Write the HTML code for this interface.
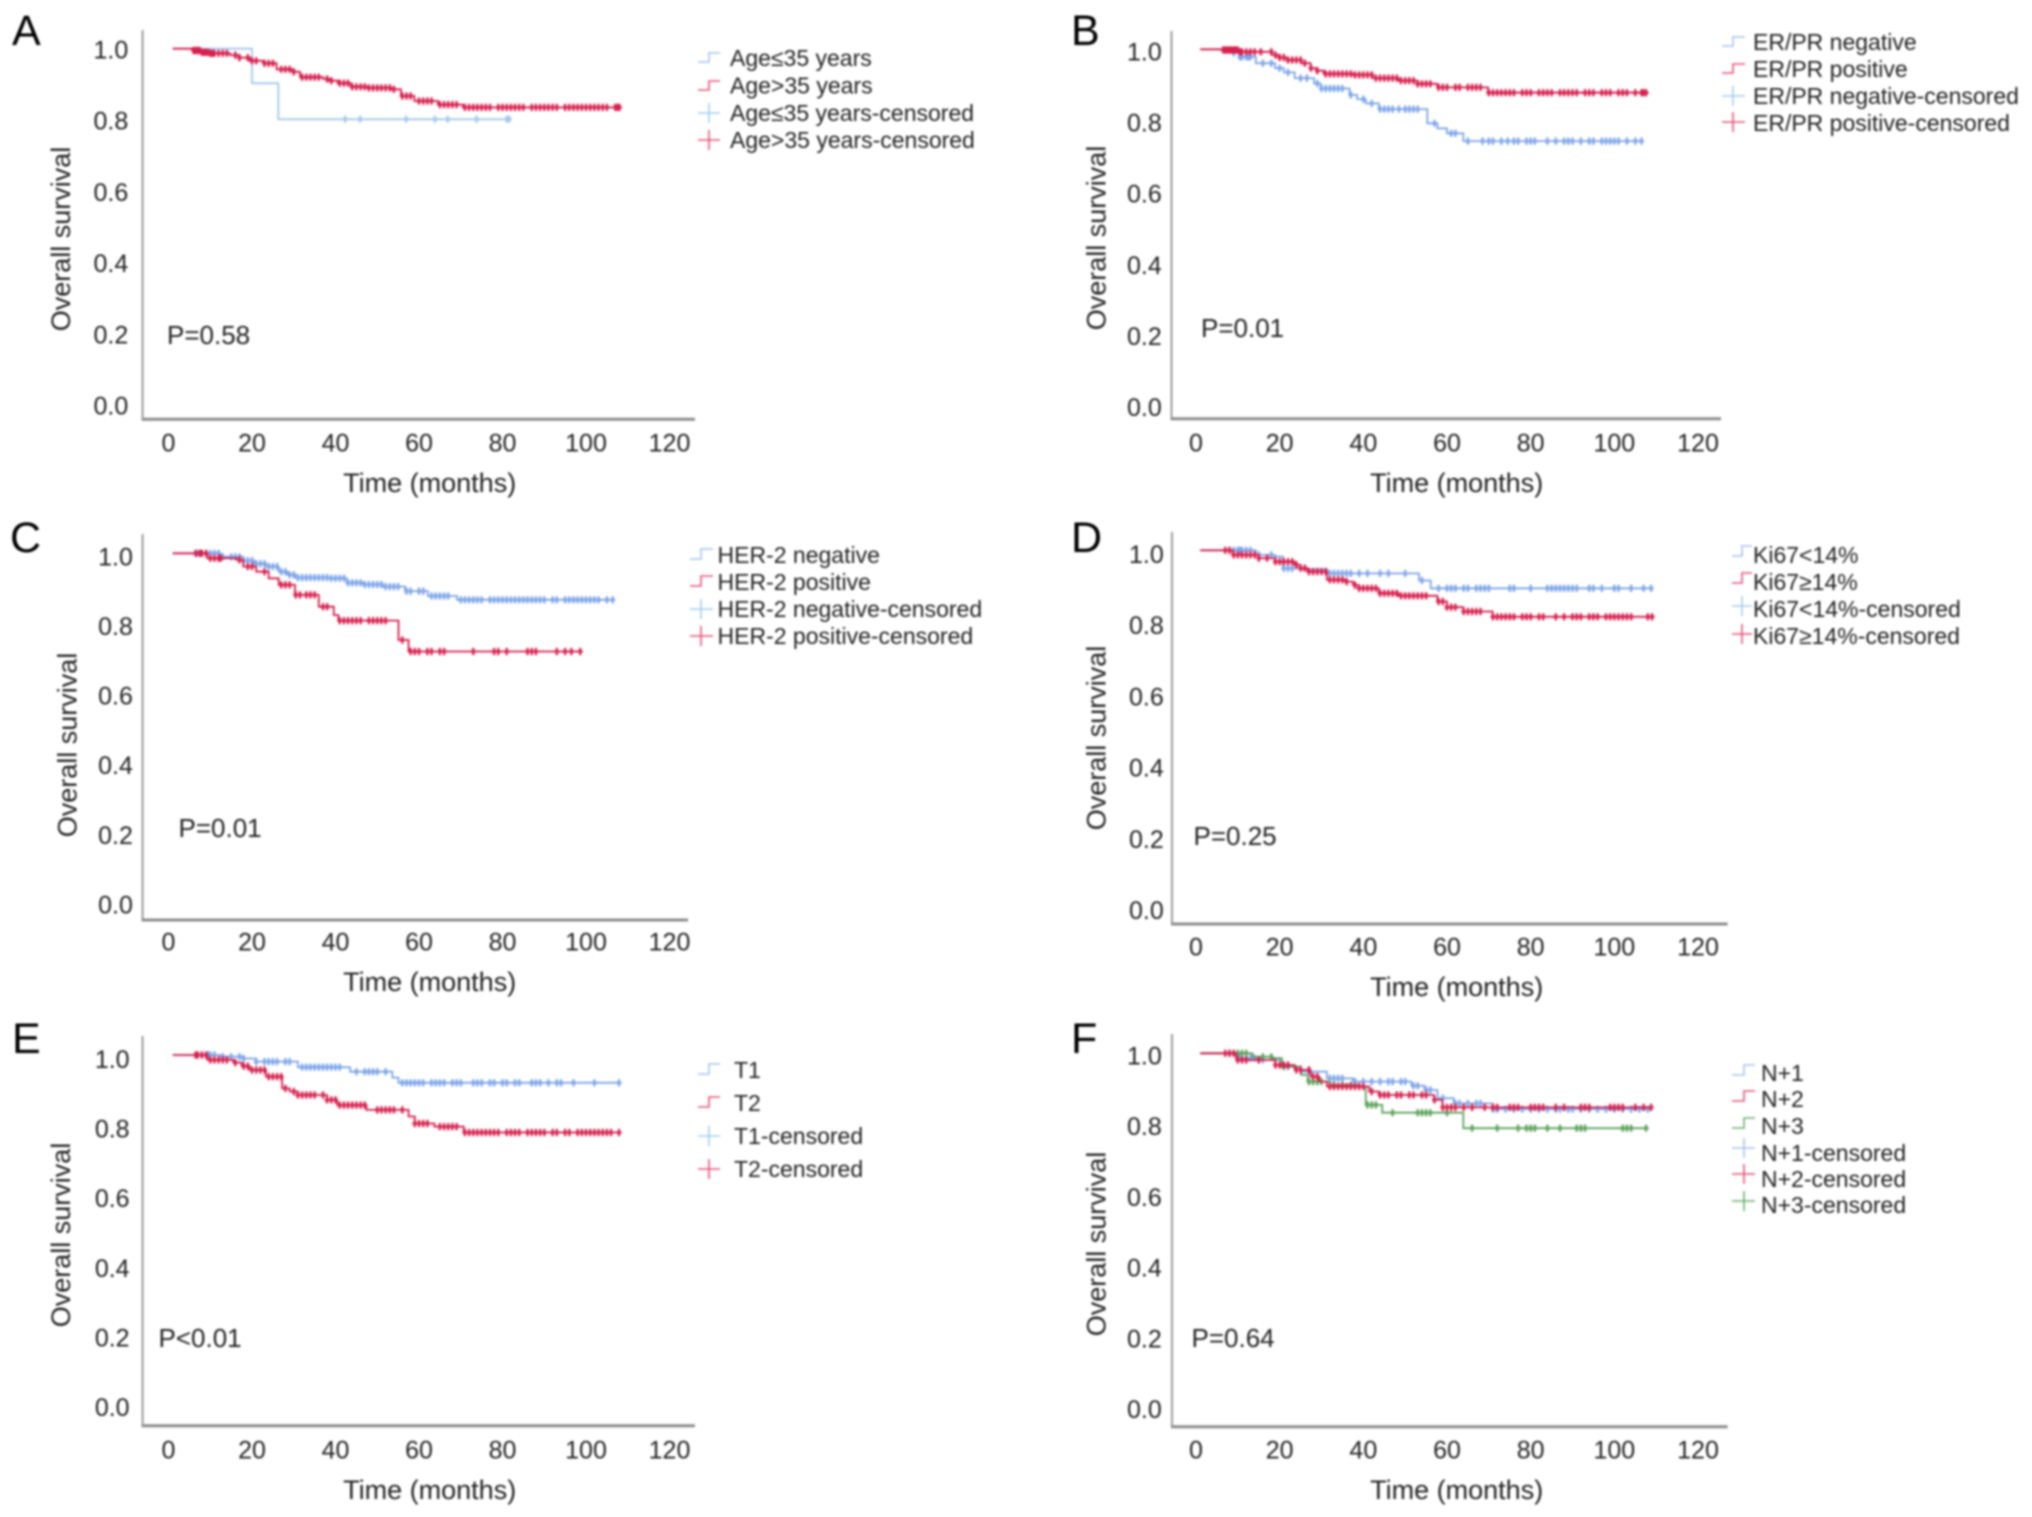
<!DOCTYPE html>
<html lang="en">
<head>
<meta charset="utf-8">
<title>Overall survival Kaplan-Meier curves</title>
<style>
html,body{margin:0;padding:0;background:#fff;width:2032px;height:1517px;overflow:hidden}
svg{display:block;filter:blur(0.95px)}
text{font-family:"Liberation Sans",sans-serif;fill:#222}
.letter{font-size:43px;fill:#000}
.atitle{font-size:27px}
.tick{font-size:25px}
.pval{font-size:26px}
.leg{font-size:23px}
.ic{fill:none;stroke-width:1.6}
</style>
</head>
<body>
<svg id="figure" xmlns="http://www.w3.org/2000/svg" width="2032" height="1517" viewBox="0 0 2032 1517">
<rect width="2032" height="1517" fill="#fff"/>
<g id="panel-a">
  <text class="letter" x="12" y="45">A</text>
  <text class="atitle" text-anchor="middle" dy=".36em" transform="translate(60.4 239) rotate(-90)">Overall survival</text>
  <text class="atitle" text-anchor="middle" x="429.7" y="492">Time (months)</text>
  <text class="pval" x="167" y="344">P=0.58</text>
  <path class="ic" stroke="#a9c4ee" d="M698 62H709V53H720"/>
  <text class="leg" x="730" y="66">Age≤35 years</text>
  <path class="ic" stroke="#e8557a" d="M698 90H709V81H720"/>
  <text class="leg" x="730" y="93.5">Age&gt;35 years</text>
  <path class="ic" stroke="#a5cdee" d="M698 113H720M709 103V123"/>
  <text class="leg" x="730" y="121">Age≤35 years-censored</text>
  <path class="ic" stroke="#e8557a" d="M698 140H720M709 130V150"/>
  <text class="leg" x="730" y="148">Age&gt;35 years-censored</text>
</g>
<g id="panel-b">
  <text class="letter" x="1071" y="45">B</text>
  <text class="atitle" text-anchor="middle" dy=".36em" transform="translate(1096 238) rotate(-90)">Overall survival</text>
  <text class="atitle" text-anchor="middle" x="1456.7" y="492">Time (months)</text>
  <text class="pval" x="1201" y="337">P=0.01</text>
  <path class="ic" stroke="#a9c4ee" d="M1722 46H1733V37H1745"/>
  <text class="leg" x="1753" y="50">ER/PR negative</text>
  <path class="ic" stroke="#e8557a" d="M1722 73H1733V64H1745"/>
  <text class="leg" x="1753" y="77">ER/PR positive</text>
  <path class="ic" stroke="#a5cdee" d="M1722 96H1745M1733 86V106"/>
  <text class="leg" x="1753" y="104">ER/PR negative-censored</text>
  <path class="ic" stroke="#e8557a" d="M1722 122H1745M1733 112V132"/>
  <text class="leg" x="1753" y="131">ER/PR positive-censored</text>
</g>
<g id="panel-c">
  <text class="letter" x="10" y="552">C</text>
  <text class="atitle" text-anchor="middle" dy=".36em" transform="translate(67 745) rotate(-90)">Overall survival</text>
  <text class="atitle" text-anchor="middle" x="429.7" y="991">Time (months)</text>
  <text class="pval" x="178.5" y="837">P=0.01</text>
  <path class="ic" stroke="#a9c4ee" d="M690 559H701V549H713"/>
  <text class="leg" x="717.5" y="563">HER-2 negative</text>
  <path class="ic" stroke="#e8557a" d="M690 586H701V576H713"/>
  <text class="leg" x="717.5" y="590">HER-2 positive</text>
  <path class="ic" stroke="#a5cdee" d="M690 609H713M701 599V619"/>
  <text class="leg" x="717.5" y="617">HER-2 negative-censored</text>
  <path class="ic" stroke="#e8557a" d="M690 636H713M701 626V646"/>
  <text class="leg" x="717.5" y="644">HER-2 positive-censored</text>
</g>
<g id="panel-d">
  <text class="letter" x="1071" y="552">D</text>
  <text class="atitle" text-anchor="middle" dy=".36em" transform="translate(1096 738) rotate(-90)">Overall survival</text>
  <text class="atitle" text-anchor="middle" x="1456.7" y="996">Time (months)</text>
  <text class="pval" x="1193.5" y="845">P=0.25</text>
  <path class="ic" stroke="#a9c4ee" d="M1732 556H1742V546H1752"/>
  <text class="leg" x="1753" y="563">Ki67&lt;14%</text>
  <path class="ic" stroke="#e8557a" d="M1732 583H1742V573H1752"/>
  <text class="leg" x="1753" y="590">Ki67≥14%</text>
  <path class="ic" stroke="#a5cdee" d="M1732 606H1752M1742 596V616"/>
  <text class="leg" x="1753" y="617">Ki67&lt;14%-censored</text>
  <path class="ic" stroke="#e8557a" d="M1732 634H1752M1742 624V644"/>
  <text class="leg" x="1753" y="644">Ki67≥14%-censored</text>
</g>
<g id="panel-e">
  <text class="letter" x="12" y="1053">E</text>
  <text class="atitle" text-anchor="middle" dy=".36em" transform="translate(60.4 1235) rotate(-90)">Overall survival</text>
  <text class="atitle" text-anchor="middle" x="429.7" y="1499">Time (months)</text>
  <text class="pval" x="158.5" y="1347">P&lt;0.01</text>
  <path class="ic" stroke="#a9c4ee" d="M698 1074H709V1064H720"/>
  <text class="leg" x="734" y="1078">T1</text>
  <path class="ic" stroke="#e8557a" d="M698 1107H709V1097H720"/>
  <text class="leg" x="734" y="1111">T2</text>
  <path class="ic" stroke="#a5cdee" d="M698 1136H720M709 1126V1146"/>
  <text class="leg" x="734" y="1144">T1-censored</text>
  <path class="ic" stroke="#e8557a" d="M698 1169H720M709 1159V1179"/>
  <text class="leg" x="734" y="1177">T2-censored</text>
</g>
<g id="panel-f">
  <text class="letter" x="1071" y="1053">F</text>
  <text class="atitle" text-anchor="middle" dy=".36em" transform="translate(1096 1244) rotate(-90)">Overall survival</text>
  <text class="atitle" text-anchor="middle" x="1456.7" y="1499">Time (months)</text>
  <text class="pval" x="1191.5" y="1347">P=0.64</text>
  <path class="ic" stroke="#a9c4ee" d="M1732 1075H1744V1065H1755"/>
  <text class="leg" x="1761" y="1081">N+1</text>
  <path class="ic" stroke="#e8557a" d="M1732 1101H1744V1091H1755"/>
  <text class="leg" x="1761" y="1107">N+2</text>
  <path class="ic" stroke="#6fb06f" d="M1732 1128H1744V1118H1755"/>
  <text class="leg" x="1761" y="1134">N+3</text>
  <path class="ic" stroke="#a9c4ee" d="M1732 1148H1755M1744 1138V1158"/>
  <text class="leg" x="1761" y="1161">N+1-censored</text>
  <path class="ic" stroke="#e8557a" d="M1732 1174H1755M1744 1164V1184"/>
  <text class="leg" x="1761" y="1187">N+2-censored</text>
  <path class="ic" stroke="#6fb06f" d="M1732 1201H1755M1744 1191V1211"/>
  <text class="leg" x="1761" y="1213">N+3-censored</text>
</g>
</svg>
<script>
// Shared tick labels
const xTickLabels = [0, 20, 40, 60, 80, 100, 120];
const yTickLabels = ["0.0", "0.2", "0.4", "0.6", "0.8", "1.0"];
const yTickValues = [0, 0.2, 0.4, 0.6, 0.8, 1.0];

// Panel A: age
const aLowTimes = [1, 20, 26.3, 81.6];
const aLowSurv = [1, 0.903, 0.802, 0.802];
const aLowCensored = [42.3, 45.9, 56.9, 63.8, 66.9, 73.8, 81, 81.6];
const aHighTimes = [1, 6, 8, 10, 14.7, 17, 19.5, 22.7, 25.9, 29.9, 31.5, 37, 38.5, 40.5, 43.7, 48, 53.3, 55.7, 58.9, 62.9, 64.5, 69.3, 70.5, 108];
const aHighSurv = [1, 0.995, 0.99, 0.987, 0.982, 0.975, 0.966, 0.959, 0.942, 0.935, 0.92, 0.915, 0.91, 0.903, 0.893, 0.89, 0.886, 0.867, 0.853, 0.853, 0.843, 0.843, 0.835, 0.835];
const aHighCensored = [6, 6.5, 7, 7.5, 8, 8.5, 9, 9.5, 10, 10.5, 11, 12, 13, 14, 16, 17, 19, 20, 21, 23, 24, 25, 27, 28, 29, 30, 32, 33, 34, 35, 36, 38, 39, 41, 42, 43, 44, 45, 46, 47, 48, 49, 50, 51, 52, 53, 54, 56, 57, 58, 60, 61, 62, 63, 65, 66, 67, 68, 69, 71, 72, 73, 74, 75, 76, 77, 79, 80, 81, 82, 83, 84, 85, 87, 88, 89, 90, 91, 92, 93, 95, 96, 97, 98, 99, 100, 101, 102, 103, 104, 105, 107, 107.6, 108];

// Panel B: ER/PR
const bNegTimes = [1, 6.5, 8.5, 10.4, 14.3, 18.9, 21, 23.6, 28.2, 29.8, 35.2, 36.7, 38.5, 40.6, 43.7, 53.8, 55.3, 57.7, 60, 62.3, 63.9, 106.5];
const bNegSurv = [1, 0.998, 0.99, 0.979, 0.961, 0.947, 0.935, 0.919, 0.904, 0.89, 0.89, 0.872, 0.86, 0.848, 0.832, 0.832, 0.792, 0.778, 0.764, 0.764, 0.742, 0.742];
const bNegCensored = [7, 9, 10.5, 11, 12, 12.5, 13, 16, 18, 20, 22, 25, 26.5, 29, 30, 31, 32, 33, 34, 35, 37, 40, 42, 44, 45, 46, 47, 48.5, 50, 51, 52, 53, 57, 61, 62, 65, 68.5, 70, 71, 73, 74.5, 76, 77, 79, 80, 81, 84, 86, 88, 89, 90, 92, 94, 95, 97, 98, 99, 100, 101, 103, 105, 106.5];
const bPosTimes = [1, 6.5, 10.4, 15.8, 18.1, 20, 22, 25.1, 27.4, 29, 30.5, 37.5, 42.2, 48.4, 53, 57.7, 68.5, 69.8, 107.6];
const bPosSurv = [1, 0.998, 0.993, 0.993, 0.984, 0.977, 0.97, 0.961, 0.947, 0.94, 0.931, 0.928, 0.919, 0.912, 0.903, 0.893, 0.893, 0.878, 0.878];
const bPosCensored = [6.5, 7, 7.5, 8, 8.5, 9, 9.5, 10, 10.5, 11, 12, 13, 14, 15.5, 18, 19, 20, 21, 22, 23, 24, 25, 26, 27.5, 29, 31, 32, 33, 34, 35, 36, 37, 38, 39, 40, 41, 42, 43, 44, 45, 46, 47, 48, 49, 50, 51, 52, 53, 54, 55, 56, 58, 59, 60, 62, 63, 65, 66, 67, 68, 70, 71, 72, 73, 74, 75, 76, 78, 79, 80, 82, 83, 84, 85, 87, 88, 89, 90, 91, 93, 94, 95, 97, 98, 99, 101, 102, 103, 105, 106.5, 107, 107.6];

// Panel C: HER-2
const cNegTimes = [1, 6.2, 12.4, 17.9, 20.5, 23.3, 26.4, 28.5, 30.3, 38.8, 42.7, 47, 51.2, 56.7, 62.1, 67.5, 69.1, 106.4];
const cNegSurv = [1, 1, 0.99, 0.979, 0.97, 0.962, 0.947, 0.938, 0.93, 0.928, 0.915, 0.91, 0.904, 0.891, 0.877, 0.877, 0.866, 0.866];
const cNegCensored = [7, 8, 9, 10, 11, 12, 13, 15, 16, 17, 18, 19, 20, 21, 22, 23, 24, 25, 26, 27, 28, 29, 30, 31, 32, 33, 34, 35, 36, 37, 38, 39, 40, 41, 42, 43, 44, 45, 46, 47, 48, 49, 50, 51, 52, 53, 54, 55, 57, 58, 60, 61, 63, 64, 65, 66, 67, 70, 71, 72, 73, 74, 75, 77, 78, 79, 80, 81, 82, 83, 84, 85, 86, 87, 88, 89, 90, 92, 93, 95, 96, 97, 98, 99, 100, 101, 102, 103, 105, 106.4];
const cPosTimes = [1, 6.2, 9.3, 16.3, 17.9, 21, 24, 26.4, 30.3, 35.4, 36, 39.6, 40.7, 53.6, 55.1, 57.5, 98.6];
const cPosSurv = [1, 1, 0.986, 0.981, 0.962, 0.947, 0.928, 0.909, 0.88, 0.88, 0.846, 0.822, 0.806, 0.806, 0.75, 0.717, 0.717];
const cPosCensored = [6.5, 7.5, 8, 9, 10, 11, 12, 12.5, 17, 19, 20, 23, 27, 28, 29, 30.5, 31.5, 33, 34, 35, 37, 38, 41, 42, 43, 44, 45, 46, 48, 49, 50, 51, 52, 56, 58, 59, 60, 62, 63, 65, 66, 73, 78, 79, 81, 86, 87, 88, 93, 95, 96.5, 98.6];

// Panel D: Ki67
const dLowTimes = [1, 6.5, 13.5, 14.3, 18.9, 20.8, 25.1, 31.3, 51.5, 53.3, 56.1, 108.8];
const dLowSurv = [1, 1, 1, 0.987, 0.982, 0.949, 0.947, 0.935, 0.935, 0.915, 0.893, 0.893];
const dLowCensored = [8, 9, 10, 10.5, 11, 12, 13, 15, 18, 21, 22, 23, 32, 33, 34, 35, 36, 37, 39, 41, 44, 46, 50, 54, 58, 60, 61, 62, 64, 65, 67, 68, 69, 70, 75, 76, 80, 84, 85, 86, 87, 88, 89, 90, 91, 94, 95, 97, 100, 101, 104, 107, 108.8];
const dHighTimes = [1, 6.5, 8.8, 15, 18.9, 23.6, 25, 26.7, 31.3, 36, 37.5, 39, 43.7, 48.4, 54.6, 57.7, 60, 63.9, 69.3, 70.9, 109];
const dHighSurv = [1, 1, 0.987, 0.978, 0.968, 0.959, 0.95, 0.94, 0.917, 0.912, 0.902, 0.893, 0.879, 0.872, 0.872, 0.856, 0.84, 0.828, 0.828, 0.813, 0.813];
const dHighCensored = [7, 8, 9, 10, 11, 12, 13, 14, 15, 17, 19, 20, 21, 22, 23, 24, 25, 26, 27, 28, 29, 30, 31, 32, 33, 34, 35, 36, 38, 39, 40, 41, 42, 43, 44, 45, 46, 47, 48, 49, 50, 51, 52, 53, 54, 55, 58, 59, 60, 61, 62, 64, 65, 66, 67, 68, 71, 72, 73, 74, 75, 76, 78, 79, 80, 82, 83, 86, 88, 90, 91, 92, 94, 95, 96, 98, 99, 100, 101, 102, 103, 104, 108, 109];

// Panel E: T stage
const eT1Times = [1, 6.2, 12.4, 17.9, 21, 29.5, 31, 42, 43.5, 51.2, 53.6, 55.1, 107.9];
const eT1Surv = [1, 1, 0.995, 0.99, 0.981, 0.981, 0.965, 0.965, 0.952, 0.952, 0.935, 0.92, 0.92];
const eT1Censored = [8, 9, 9.5, 10, 11, 13, 15, 17, 18, 21, 23, 24, 25, 26, 28, 29, 32, 33, 34, 35, 36, 37, 38, 39, 40, 41, 45, 47, 48, 49, 50, 52, 56, 57, 58, 59, 60, 61, 63, 64, 65, 66, 68, 69, 70, 73, 74, 75, 77, 78, 80, 81, 83, 84, 87, 88, 89, 91, 93, 94, 97, 102, 107.9];
const eT2Times = [1, 6.2, 9.3, 15.5, 17.5, 19.4, 23.3, 27.2, 29, 31, 35.7, 38, 40.4, 47.4, 54.3, 57.5, 59, 63.7, 69.1, 70.7, 107.9];
const eT2Surv = [1, 1, 0.986, 0.978, 0.968, 0.957, 0.938, 0.904, 0.895, 0.885, 0.885, 0.871, 0.856, 0.842, 0.842, 0.823, 0.803, 0.794, 0.794, 0.777, 0.777];
const eT2Censored = [6.5, 7, 8, 9, 10, 11, 12, 13, 14, 16, 18, 19, 20, 21, 22, 23, 24, 25, 26, 27, 28, 30, 31, 32, 33, 34, 35, 37, 38, 39, 40, 41, 42, 43, 44, 45, 46, 47, 50, 51, 52, 53, 54, 56, 59, 60, 61, 62, 65, 66, 67, 68, 69, 71, 72, 73, 74, 75, 76, 77, 78, 79, 81, 82, 83, 84, 86, 87, 88, 89, 90, 92, 93, 95, 96, 98, 99, 100, 101, 102, 103, 104, 105, 106, 107.9];

// Panel F: N stage
const fN1Times = [1, 6.5, 10.4, 15.8, 20.5, 25.1, 31.3, 36, 37.5, 48.4, 51.5, 54.6, 57.7, 61.6, 69.3, 70.9, 108.8];
const fN1Surv = [1, 1, 0.986, 0.981, 0.962, 0.948, 0.929, 0.929, 0.92, 0.92, 0.908, 0.896, 0.873, 0.858, 0.858, 0.842, 0.842];
const fN1Censored = [8, 10, 13, 14, 16, 22, 27, 32, 33, 34, 35, 38, 40, 42, 44, 46, 47, 49, 50, 52, 53, 55, 56, 59, 62, 63, 65, 67, 68, 71, 72, 74, 76, 78, 80, 82, 84, 86, 87, 89, 90, 92, 94, 96, 98, 100, 102, 104, 106, 108];
const fN2Times = [1, 6.5, 9.6, 14, 18.9, 23.6, 27.4, 29.5, 31.3, 39, 41.4, 43.7, 54.6, 56.9, 58.9, 108.8];
const fN2Surv = [1, 1, 0.981, 0.981, 0.967, 0.953, 0.934, 0.92, 0.906, 0.906, 0.892, 0.882, 0.882, 0.868, 0.847, 0.847];
const fN2Censored = [7, 8, 9, 10, 11, 12, 15, 19, 20, 21, 22, 24, 25, 27, 28, 29, 32, 33, 34, 35, 36, 37, 38, 39, 40, 42, 44, 45, 46, 48, 49, 51, 52, 54, 55, 57, 59, 60, 61, 62, 64, 66, 69, 71, 72, 75, 76, 77, 80, 81, 82, 83, 86, 88, 92, 93, 94, 99, 100, 101, 102, 105, 107, 108.8];
const fN3Times = [1, 12.7, 13.5, 18.1, 20.5, 25.1, 26.7, 32.1, 39, 40.6, 44.5, 63.6, 63.9, 107.6];
const fN3Surv = [1, 1, 0.99, 0.986, 0.962, 0.939, 0.92, 0.91, 0.906, 0.854, 0.832, 0.832, 0.788, 0.788];
const fN3Censored = [8, 9, 10, 11, 12, 16, 18, 21, 27, 28, 29, 30, 33, 35, 37, 41, 42, 43, 47, 53, 54, 55, 56, 60, 66, 72, 77, 79, 80, 81, 84, 87, 91, 92, 93, 102, 103, 104, 107.6];

const NS = "http://www.w3.org/2000/svg";
const BLUE = "#7ea6ea", RED = "#d8204e", GREEN = "#5da35d", PALE = "#a3c9ec";

const panels = [
  { id: "panel-a", axisLeft: 142.6, axisTop: 30, axisRight: 695, axisBottom: 419.3, x0: 168.5, x120: 669.5, y1: 48.7, span: 356, labTop: 49.5, labBottom: 405.5, labRight: 128.3, xLabY: 442.7,
    series: [["age-le35", PALE, aLowTimes, aLowSurv, aLowCensored], ["age-gt35", RED, aHighTimes, aHighSurv, aHighCensored]] },
  { id: "panel-b", axisLeft: 1171.5, axisTop: 31, axisRight: 1721, axisBottom: 418.7, x0: 1196, x120: 1698, y1: 49.3, span: 356, labTop: 51.5, labBottom: 407, labRight: 1161.8, xLabY: 442.7,
    series: [["er-negative", BLUE, bNegTimes, bNegSurv, bNegCensored], ["er-positive", RED, bPosTimes, bPosSurv, bPosCensored]] },
  { id: "panel-c", axisLeft: 142.6, axisTop: 534, axisRight: 688, axisBottom: 920, x0: 168.5, x120: 669.5, y1: 553.3, span: 347, labTop: 556.3, labBottom: 904.5, labRight: 132.9, xLabY: 941.7,
    series: [["her2-negative", BLUE, cNegTimes, cNegSurv, cNegCensored], ["her2-positive", RED, cPosTimes, cPosSurv, cPosCensored]] },
  { id: "panel-d", axisLeft: 1172, axisTop: 532, axisRight: 1727.6, axisBottom: 924, x0: 1196, x120: 1698, y1: 550.3, span: 355.6, labTop: 554, labBottom: 910, labRight: 1163.8, xLabY: 946.5,
    series: [["ki67-low", BLUE, dLowTimes, dLowSurv, dLowCensored], ["ki67-high", RED, dHighTimes, dHighSurv, dHighCensored]] },
  { id: "panel-e", axisLeft: 142.6, axisTop: 1036, axisRight: 695, axisBottom: 1425.7, x0: 168.5, x120: 669.5, y1: 1055, span: 347.7, labTop: 1059, labBottom: 1407, labRight: 129.6, xLabY: 1449.3,
    series: [["t1", BLUE, eT1Times, eT1Surv, eT1Censored], ["t2", RED, eT2Times, eT2Surv, eT2Censored]] },
  { id: "panel-f", axisLeft: 1172, axisTop: 1034, axisRight: 1727.6, axisBottom: 1426.7, x0: 1196, x120: 1698, y1: 1053.3, span: 353.3, labTop: 1055.5, labBottom: 1409, labRight: 1161.8, xLabY: 1449.3,
    series: [["n1", BLUE, fN1Times, fN1Surv, fN1Censored], ["n3", GREEN, fN3Times, fN3Surv, fN3Censored], ["n2", RED, fN2Times, fN2Surv, fN2Censored]] }
];

function stepValue(times, surv, t) {
  let v = surv[0];
  for (let i = 0; i < times.length; i++) {
    if (times[i] <= t) v = surv[i];
  }
  return v;
}

panels.forEach(function (p) {
  const host = document.getElementById(p.id);
  const letter = p.id.slice(-1);
  const xScale = function (t) { return p.x0 + (p.x120 - p.x0) * t / 120; };
  const yScale = function (v) { return p.y1 + (1 - v) * p.span; };
  const labelY = function (v) { return p.labBottom - (p.labBottom - p.labTop) * v; };

  const yAxis = document.createElementNS(NS, "line");
  yAxis.setAttribute("x1", p.axisLeft);
  yAxis.setAttribute("x2", p.axisLeft);
  yAxis.setAttribute("y1", p.axisTop);
  yAxis.setAttribute("y2", p.axisBottom);
  yAxis.setAttribute("stroke", "#9c9c9c");
  yAxis.setAttribute("stroke-width", "2");
  
  
  host.appendChild(yAxis);

  const xAxis = document.createElementNS(NS, "line");
  xAxis.setAttribute("x1", p.axisLeft - 1);
  xAxis.setAttribute("x2", p.axisRight);
  xAxis.setAttribute("y1", p.axisBottom);
  xAxis.setAttribute("y2", p.axisBottom);
  xAxis.setAttribute("stroke", "#8c8c8c");
  xAxis.setAttribute("stroke-width", "3");
  
  
  host.appendChild(xAxis);

  xTickLabels.forEach(function (label) {
    const t = document.createElementNS(NS, "text");
    t.setAttribute("class", "tick");
    t.setAttribute("text-anchor", "middle");
    t.setAttribute("x", xScale(label));
    t.setAttribute("y", p.xLabY + 9);
    t.textContent = label;
    
    
    host.appendChild(t);
  });

  yTickValues.forEach(function (v, i) {
    const t = document.createElementNS(NS, "text");
    t.setAttribute("class", "tick");
    t.setAttribute("text-anchor", "end");
    t.setAttribute("x", p.labRight);
    t.setAttribute("y", labelY(v) + 9);
    t.textContent = yTickLabels[i];
    
    
    host.appendChild(t);
  });

  p.series.forEach(function (s) {
    const key = s[0], color = s[1], times = s[2], surv = s[3], cens = s[4];
    let d = "M" + xScale(times[0]).toFixed(1) + " " + yScale(surv[0]).toFixed(1);
    for (let i = 1; i < times.length; i++) {
      d += "H" + xScale(times[i]).toFixed(1) + "V" + yScale(surv[i]).toFixed(1);
    }
    const line = document.createElementNS(NS, "path");
    line.setAttribute("d", d);
    line.setAttribute("fill", "none");
    line.setAttribute("stroke", color);
    line.setAttribute("stroke-width", "1.8");
    
    
    host.appendChild(line);

    const marks = document.createElementNS(NS, "g");
    marks.setAttribute("stroke", color);
    
    
    cens.forEach(function (t) {
      const cx = xScale(t), cy = yScale(stepValue(times, surv, t));
      const m = document.createElementNS(NS, "path");
      m.setAttribute("d", "M" + cx.toFixed(1) + " " + (cy - 3.6).toFixed(1) + "V" + (cy + 3.6).toFixed(1) + "M" + (cx - 2.5).toFixed(1) + " " + cy.toFixed(1) + "H" + (cx + 2.5).toFixed(1));
      m.setAttribute("stroke-width", "2.3");
      
      
      marks.appendChild(m);
    });
    host.appendChild(marks);
  });
});
</script>
</body>
</html>
